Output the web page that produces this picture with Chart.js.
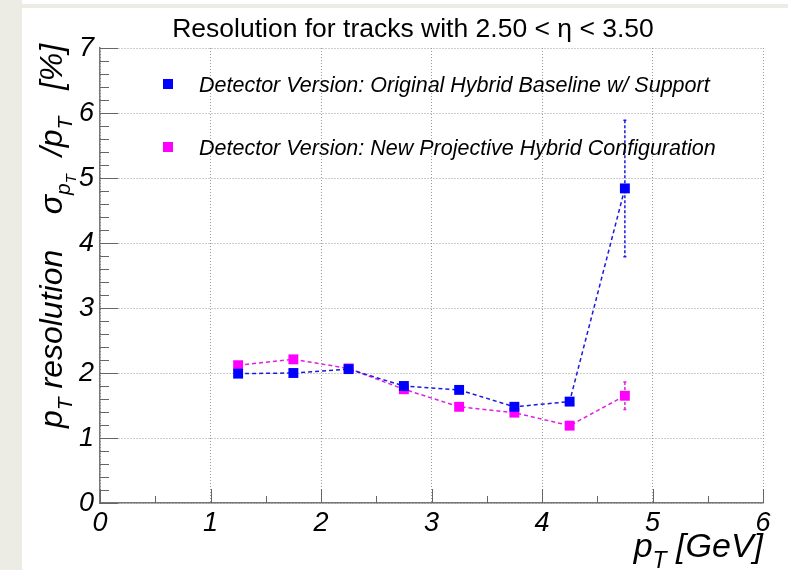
<!DOCTYPE html>
<html>
<head>
<meta charset="utf-8">
<script src="https://cdn.jsdelivr.net/npm/chart.js@4.4.1/dist/chart.umd.min.js"></script>
<style>
    body { margin: 0; background: #ffffff; }
    #wrap { width: 788px; height: 570px; }
</style>
</head>
<body>
<div id="wrap"><canvas id="resChart" width="788" height="570"></canvas></div>
<script>
// pT bins (bin centres, GeV)
const ptBins = [1.25, 1.75, 2.25, 2.75, 3.25, 3.75, 4.25, 4.75];

// Original hybrid baseline w/ support
const resOriginal = [1.99, 2.00, 2.06, 1.80, 1.74, 1.48, 1.56, 4.84];
const errOriginal = [0.03, 0.03, 0.03, 0.03, 0.03, 0.03, 0.04, 1.05];

// New projective hybrid configuration
const resProjective = [2.12, 2.21, 2.07, 1.75, 1.48, 1.39, 1.19, 1.65];
const errProjective = [0.03, 0.03, 0.03, 0.03, 0.03, 0.03, 0.04, 0.21];

const xTicks = [0, 1, 2, 3, 4, 5, 6];
const yTicks = [0, 1, 2, 3, 4, 5, 6, 7];

const legendLabels = [
    'Detector Version: Original Hybrid Baseline w/ Support',
    'Detector Version: New Projective Hybrid Configuration'
];

const FONT = '"Liberation Sans", Arial, Helvetica, sans-serif';

function toPoints(ys) {
    return ptBins.map((x, i) => ({ x: x, y: ys[i] }));
}

// background strips like the original screenshot
const backdrop = {
    id: 'backdrop',
    beforeDraw(chart) {
        const c = chart.ctx;
        c.save();
        c.fillStyle = '#ffffff';
        c.fillRect(0, 0, chart.width, chart.height);
        c.fillStyle = '#ecebe4';
        c.fillRect(0, 0, 22, chart.height);
        c.fillRect(22, 4, chart.width - 22, 4);
        c.restore();
    }
};

// vertical error bars
const errorBars = {
    id: 'errorBars',
    beforeDatasetsDraw(chart) {
        const c = chart.ctx;
        const xs = chart.scales.x, ys = chart.scales.y;
        chart.data.datasets.forEach(ds => {
            c.save();
            c.strokeStyle = ds.borderColor;
            c.lineWidth = 1.5;
            c.setLineDash([3, 2]);
            ds.data.forEach((p, i) => {
                const e = ds.errors[i];
                const px = xs.getPixelForValue(p.x);
                const top = ys.getPixelForValue(p.y + e);
                const bot = ys.getPixelForValue(p.y - e);
                c.beginPath();
                c.moveTo(px, top);
                c.lineTo(px, bot);
                c.stroke();
                c.setLineDash([]);
                c.beginPath();
                c.moveTo(px - 1.5, top); c.lineTo(px + 1.5, top);
                c.moveTo(px - 1.5, bot); c.lineTo(px + 1.5, bot);
                c.stroke();
                c.setLineDash([3, 2]);
            });
            c.restore();
        });
    }
};

// ROOT style inward ticks, legend, titles
const rootDecor = {
    id: 'rootDecor',
    afterDraw(chart) {
        const c = chart.ctx;
        const xs = chart.scales.x, ys = chart.scales.y;
        const area = chart.chartArea;
        c.save();
        c.strokeStyle = '#666666';
        c.lineWidth = 1;
        // y ticks
        for (let v = 0; v <= 7.0001; v += 0.2) {
            const y = Math.round(ys.getPixelForValue(v)) + 0.5;
            const major = Math.abs(v - Math.round(v)) < 0.01;
            c.beginPath();
            c.moveTo(area.left, y);
            c.lineTo(area.left + (major ? 18 : 9), y);
            c.stroke();
        }
        // x ticks
        for (let v = 0; v <= 6.0001; v += 0.5) {
            const x = Math.round(xs.getPixelForValue(v)) + 0.5;
            const major = Math.abs(v - Math.round(v)) < 0.01;
            c.beginPath();
            c.moveTo(x, area.bottom);
            c.lineTo(x, area.bottom - (major ? 14 : 7));
            c.stroke();
        }

        // title
        c.fillStyle = '#000000';
        c.font = '26.5px ' + FONT;
        c.textAlign = 'center';
        c.textBaseline = 'alphabetic';
        c.fillText('Resolution for tracks with 2.50 < \u03b7 < 3.50', 413, 37);

        // legend
        c.textAlign = 'left';
        c.font = 'italic 21.5px ' + FONT;
        const legY = [84, 147];
        chart.data.datasets.forEach((ds, i) => {
            c.fillStyle = ds.backgroundColor;
            c.fillRect(163, legY[i] - 5, 10, 10);
            c.fillStyle = '#000000';
            c.fillText(legendLabels[i], 199, legY[i] + 8);
        });

        // x axis title
        const xt = [
            { t: 'p', s: 34, dy: 0 },
            { t: 'T', s: 23, dy: 11 },
            { t: ' [GeV]', s: 34, dy: 0 }
        ];
        drawRuns(c, xt, 763, 557, 'right');

        // y axis title (rotated)
        c.translate(62, 428);
        c.rotate(-Math.PI / 2);
        const yt = [
            { t: 'p', s: 32, dy: 0 },
            { t: 'T', s: 21, dy: 10 },
            { t: ' resolution    ', s: 32, dy: 0 },
            { t: '\u03c3', s: 32, dy: 0 },
            { t: 'p', s: 21, dy: 8 },
            { t: 'T', s: 15, dy: 14 },
            { t: '  /p', s: 32, dy: 0 },
            { t: 'T', s: 21, dy: 10 },
            { t: '   [%]', s: 32, dy: 0 }
        ];
        drawRuns(c, yt, 0, 0, 'left');
        c.restore();
    }
};

function drawRuns(c, runs, x, y, align) {
    c.fillStyle = '#000000';
    c.textAlign = 'left';
    let total = 0;
    runs.forEach(r => {
        c.font = 'italic ' + r.s + 'px ' + FONT;
        r.w = c.measureText(r.t).width;
        total += r.w;
    });
    let cx = align === 'right' ? x - total : x;
    runs.forEach(r => {
        c.font = 'italic ' + r.s + 'px ' + FONT;
        c.fillText(r.t, cx, y + r.dy);
        cx += r.w;
    });
}

const ctx = document.getElementById('resChart').getContext('2d');
const resChart = new Chart(ctx, {
    type: 'line',
    data: {
        datasets: [
            {
                label: legendLabels[0],
                data: toPoints(resOriginal),
                errors: errOriginal,
                borderColor: '#1a1ae0',
                backgroundColor: '#0000ff',
                borderWidth: 1.5,
                borderDash: [4, 3],
                pointStyle: 'rect',
                pointRadius: 7,
                pointBorderWidth: 0,
                pointBackgroundColor: '#0000ff',
                tension: 0
            },
            {
                label: legendLabels[1],
                data: toPoints(resProjective),
                errors: errProjective,
                borderColor: '#e020e0',
                backgroundColor: '#ff00ff',
                borderWidth: 1.5,
                borderDash: [4, 3],
                pointStyle: 'rect',
                pointRadius: 7,
                pointBorderWidth: 0,
                pointBackgroundColor: '#ff00ff',
                tension: 0
            }
        ]
    },
    options: {
        responsive: false,
        animation: false,
        layout: { padding: { left: 0, right: 25, top: 48, bottom: 0 } },
        plugins: {
            legend: { display: false },
            tooltip: { enabled: false }
        },
        scales: {
            x: {
                type: 'linear',
                min: 0,
                max: 6,
                afterFit(scale) { scale.height = 67; },
                afterBuildTicks(scale) { scale.ticks = xTicks.map(v => ({ value: v })); },
                grid: { color: '#9a9a9a', lineWidth: 1, drawTicks: false },
                border: { color: '#777777', width: 1.5, dash: [1, 2] },
                ticks: {
                    color: '#000000',
                    padding: 4,
                    maxRotation: 0,
                    font: { family: FONT, size: 27, style: 'italic' }
                }
            },
            y: {
                type: 'linear',
                min: 0,
                max: 7,
                afterFit(scale) { scale.width = 100; },
                afterBuildTicks(scale) { scale.ticks = yTicks.map(v => ({ value: v })); },
                grid: { color: '#9a9a9a', lineWidth: 1, drawTicks: false },
                border: { color: '#777777', width: 1.5, dash: [1, 2] },
                ticks: {
                    color: '#000000',
                    padding: 6,
                    font: { family: FONT, size: 27, style: 'italic' }
                }
            }
        }
    },
    plugins: [backdrop, errorBars, rootDecor]
});
</script>
</body>
</html>
